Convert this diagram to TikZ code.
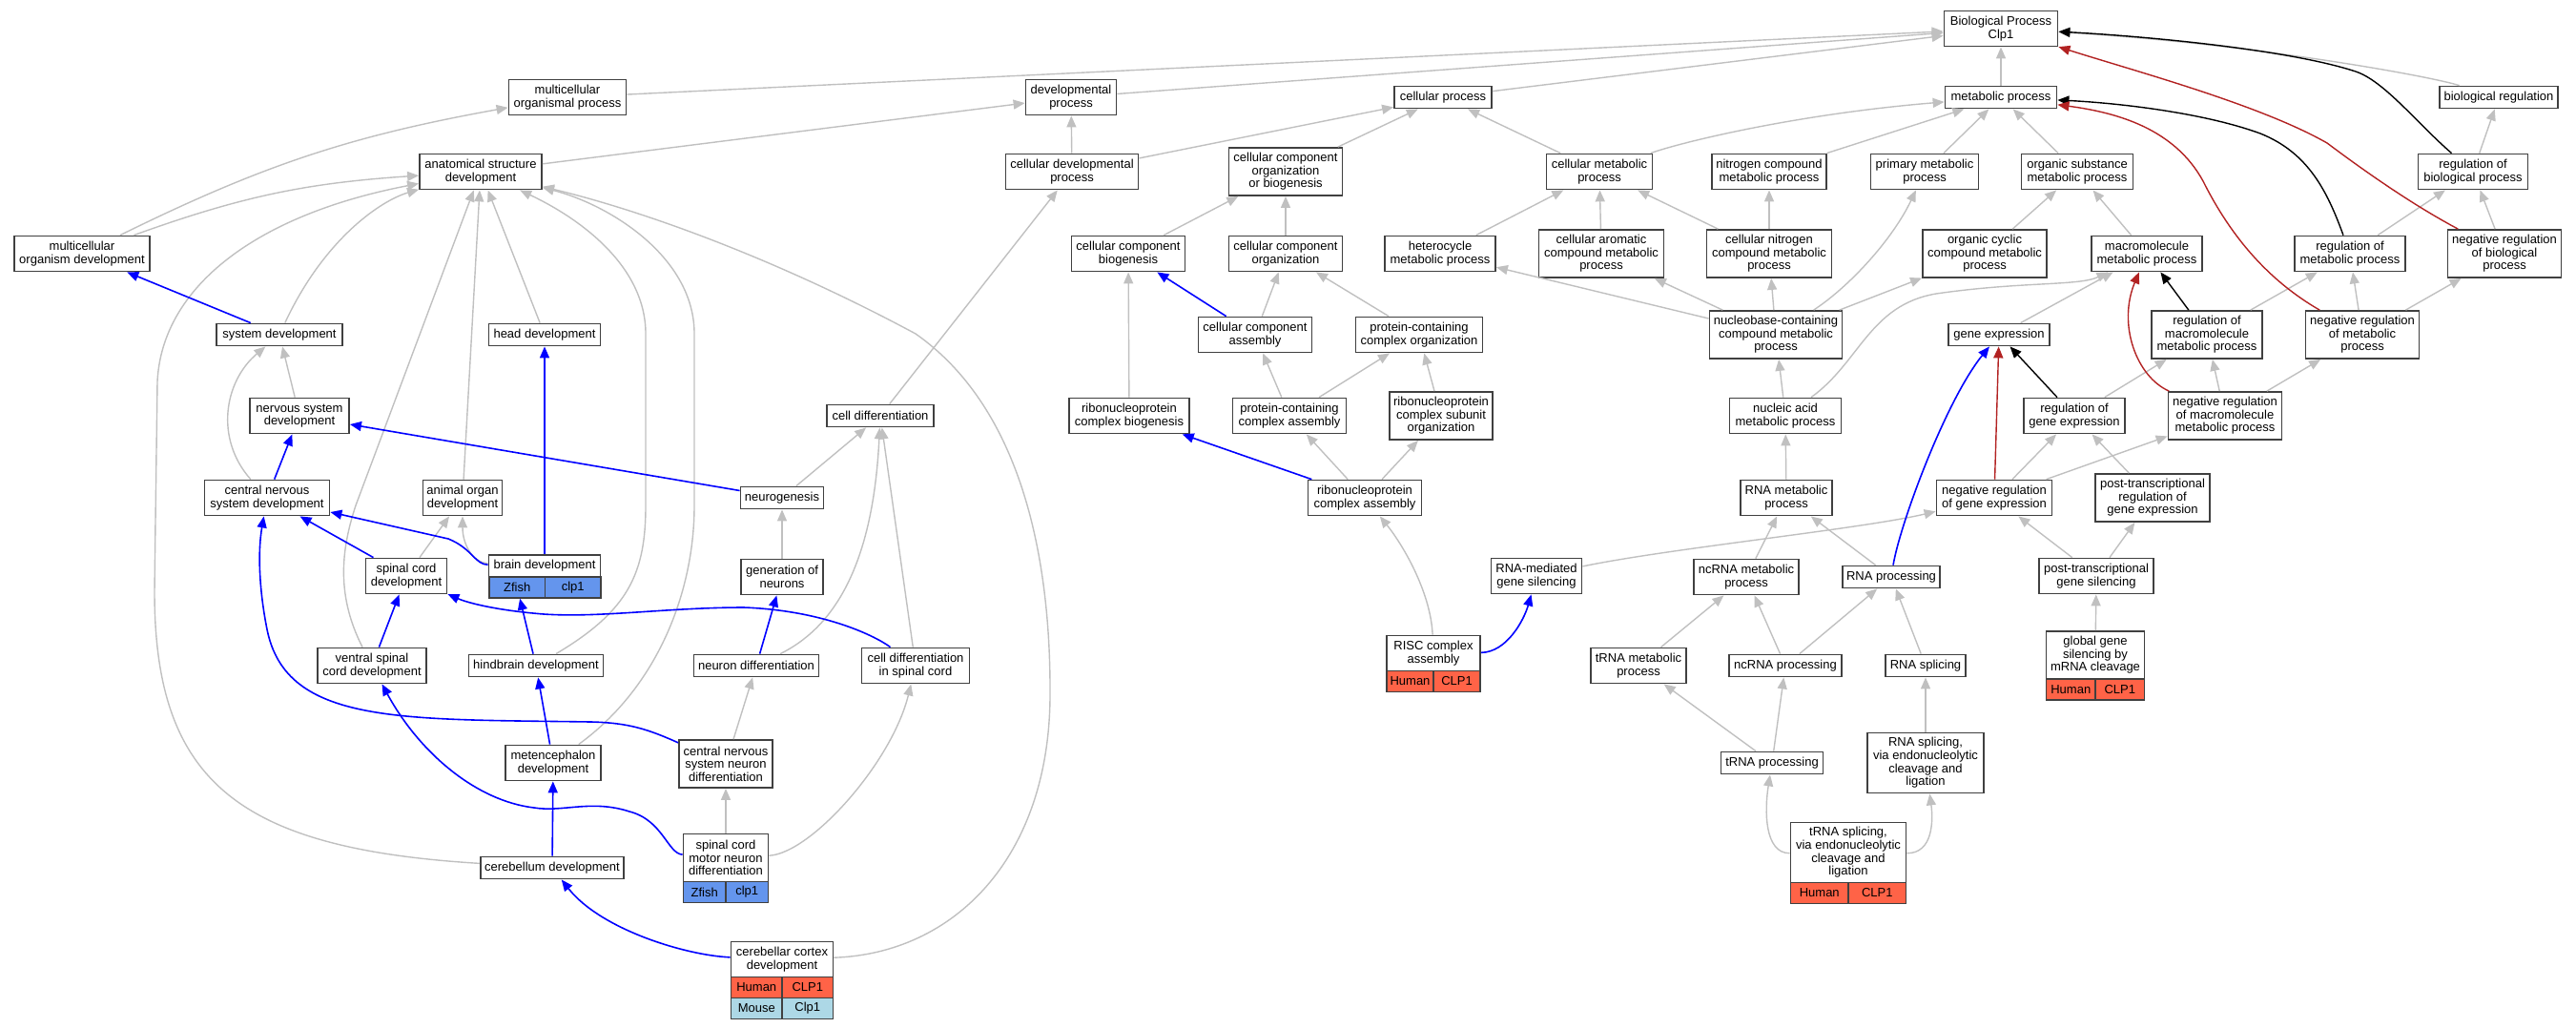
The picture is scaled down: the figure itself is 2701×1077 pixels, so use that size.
\documentclass[tikz,border=0pt]{standalone}
\usepackage{fontspec}
\setmainfont{Liberation Sans}
\usetikzlibrary{arrows.meta}

\definecolor{edgegray}{HTML}{C0C0C0}
\definecolor{negred}{HTML}{B22222}
\definecolor{zfishblue}{HTML}{6495ED}
\definecolor{humanred}{HTML}{FF6347}
\definecolor{mouseblue}{HTML}{ADD8E6}
\newcommand{\gofont}{\fontsize{6.5pt}{6.8pt}\selectfont}

\tikzset{
  term/.style={draw=black!75, line width=0.9pt, fill=white, align=center,
    inner sep=1pt, font=\gofont, minimum height=11.5pt},
  l2/.style={minimum height=18.5pt},
  l3/.style={minimum height=25pt},
  l4/.style={minimum height=31.5pt},
  bw/.style={minimum width=#1*0.5pt},
  cell/.style={draw=black!75, line width=0.9pt, font=\gofont, inner sep=0pt,
    minimum height=11pt},
  zfish/.style={cell, fill=zfishblue},
  human/.style={cell, fill=humanred},
  mouse/.style={cell, fill=mouseblue},
  isa/.style={draw=edgegray, line width=0.7pt, -{Triangle[length=6pt,width=5pt]}},
  partof/.style={draw=blue, line width=0.8pt, -{Triangle[length=6pt,width=5pt]}},
  reg/.style={draw=black, line width=0.7pt, -{Triangle[length=6pt,width=5pt]}},
  negreg/.style={draw=negred, line width=0.7pt, -{Triangle[length=6pt,width=5pt]}}
}

\begin{document}
\begin{tikzpicture}[x=0.5pt,y=-0.5pt]
    \useasboundingbox (0,0) rectangle (2701,1077);

    % top
    \node[term, l2, bw=119] (bp) at (2098,30) {Biological Process\\Clp1};

    \node[term, l2, bw=123] (mop) at (595,102) {multicellular\\organismal process};
    \node[term, l2, bw=95] (devp) at (1123,102) {developmental\\process};
    \node[term, bw=102] (cellp) at (1513,102) {cellular process};
    \node[term, bw=117] (metp) at (2098,102) {metabolic process};
    \node[term, bw=124] (bioreg) at (2620,102) {biological regulation};

    \node[term, l2, bw=128] (asd) at (504,180) {anatomical structure\\development};
    \node[term, l2, bw=139] (cdp) at (1124,180) {cellular developmental\\process};
    \node[term, l3, bw=119] (ccob) at (1348,180) {cellular component\\organization\\or biogenesis};
    \node[term, l2, bw=111] (cmp) at (1677,180) {cellular metabolic\\process};
    \node[term, l2, bw=120] (ncmp) at (1855,180) {nitrogen compound\\metabolic process};
    \node[term, l2, bw=113] (pmp) at (2018,180) {primary metabolic\\process};
    \node[term, l2, bw=117] (osmp) at (2178,180) {organic substance\\metabolic process};
    \node[term, l2, bw=115] (rbp) at (2593,180) {regulation of\\biological process};

    \node[term, l2, bw=142] (mod) at (86,266) {multicellular\\organism development};
    \node[term, l2, bw=119] (ccb) at (1183,266) {cellular component\\biogenesis};
    \node[term, l2, bw=119] (cco) at (1348,266) {cellular component\\organization};
    \node[term, l2, bw=116] (hmp) at (1510,266) {heterocycle\\metabolic process};
    \node[term, l3, bw=131] (camp) at (1679,266) {cellular aromatic\\compound metabolic\\process};
    \node[term, l3, bw=131] (cnmp) at (1855,266) {cellular nitrogen\\compound metabolic\\process};
    \node[term, l3, bw=130] (ocmp) at (2081,266) {organic cyclic\\compound metabolic\\process};
    \node[term, l2, bw=116] (mmp) at (2251,266) {macromolecule\\metabolic process};
    \node[term, l2, bw=116] (rmp) at (2464,266) {regulation of\\metabolic process};
    \node[term, l3, bw=119] (nrbp) at (2626,266) {negative regulation\\of biological\\process};

    \node[term, bw=132] (sysd) at (293,351) {system development};
    \node[term, bw=117] (headd) at (571,351) {head development};
    \node[term, l2, bw=119] (cca) at (1316,351) {cellular component\\assembly};
    \node[term, l2, bw=133] (pcco) at (1488,351) {protein-containing\\complex organization};
    \node[term, l3, bw=139] (nbmp) at (1862,351) {nucleobase-containing\\compound metabolic\\process};
    \node[term, bw=106] (gexp) at (2096,351) {gene expression};
    \node[term, l3, bw=116] (rmmp) at (2314,351) {regulation of\\macromolecule\\metabolic process};
    \node[term, l3, bw=119] (nrmp) at (2477,351) {negative regulation\\of metabolic\\process};

    \node[term, l2, bw=104] (nsd) at (314,436) {nervous system\\development};
    \node[term, bw=112] (celld) at (923,436) {cell differentiation};
    \node[term, l2, bw=126] (rcb) at (1184,436) {ribonucleoprotein\\complex biogenesis};
    \node[term, l2, bw=119] (pcca) at (1352,436) {protein-containing\\complex assembly};
    \node[term, l3, bw=108] (rcso) at (1511,436) {ribonucleoprotein\\complex subunit\\organization};
    \node[term, l2, bw=117] (namp) at (1872,436) {nucleic acid\\metabolic process};
    \node[term, l2, bw=106] (rge) at (2175,436) {regulation of\\gene expression};
    \node[term, l3, bw=119] (nrmmp) at (2333,436) {negative regulation\\of macromolecule\\metabolic process};

    \node[term, l2, bw=131] (cnsd) at (280,522) {central nervous\\system development};
    \node[term, l2, bw=83] (aod) at (485,522) {animal organ\\development};
    \node[term, bw=87] (neurog) at (820,522) {neurogenesis};
    \node[term, l2, bw=119] (rca) at (1431,522) {ribonucleoprotein\\complex assembly};
    \node[term, l2, bw=96] (rnamp) at (1873,522) {RNA metabolic\\process};
    \node[term, l2, bw=121] (nrge) at (2091,522) {negative regulation\\of gene expression};
    \node[term, l3, bw=120] (ptrge) at (2257,522) {post-transcriptional\\regulation of\\gene expression};

    \node[term, l2, bw=85] (scd) at (426,604) {spinal cord\\development};
    \node[term, bw=117] (brain) at (571,593.25) {brain development};
    \node[zfish, bw=58.5] (brainZ) at (542.25,615.75) {Zfish};
    \node[zfish, bw=58.5] (brainC) at (600.75,615.75) {clp1};
    \node[term, l2, bw=86] (gon) at (820,605) {generation of\\neurons};
    \node[term, l2, bw=95] (rmgs) at (1611,604) {RNA-mediated\\gene silencing};
    \node[term, l2, bw=110] (ncrmp) at (1831,605) {ncRNA metabolic\\process};
    \node[term, bw=102] (rnap) at (1983,605) {RNA processing};
    \node[term, l2, bw=120] (ptgs) at (2198,604) {post-transcriptional\\gene silencing};

    \node[term, l2, bw=114] (vscd) at (390,698) {ventral spinal\\cord development};
    \node[term, bw=141] (hbd) at (562,698) {hindbrain development};
    \node[term, bw=131] (neurd) at (793,698) {neuron differentiation};
    \node[term, l2, bw=113] (cdsc) at (960,698) {cell differentiation\\in spinal cord};
    \node[term, l2, bw=98] (risc) at (1503,685) {RISC complex\\assembly};
    \node[human, bw=49] (riscH) at (1478.5,714.5) {Human};
    \node[human, bw=49] (riscC) at (1527.5,714.5) {CLP1};
    \node[term, l2, bw=100] (trmp) at (1718,698) {tRNA metabolic\\process};
    \node[term, bw=118] (ncrp) at (1872,698) {ncRNA processing};
    \node[term, bw=84] (rnas) at (2019,698) {RNA splicing};
    \node[term, l3, bw=103] (ggs) at (2197,687) {global gene\\silencing by\\mRNA cleavage};
    \node[human, bw=51.5] (ggsH) at (2171.25,723) {Human};
    \node[human, bw=51.5] (ggsC) at (2222.75,723) {CLP1};

    \node[term, l2, bw=100] (metd) at (580,800) {metencephalon\\development};
    \node[term, l3, bw=98] (cnsnd) at (761,801) {central nervous\\system neuron\\differentiation};
    \node[term, bw=107] (trnap) at (1858,800) {tRNA processing};
    \node[term, l4, bw=122] (rsve) at (2019,800) {RNA splicing,\\via endonucleolytic\\cleavage and\\ligation};

    \node[term, bw=150] (cbd) at (579,910) {cerebellum development};
    \node[term, l3, bw=89] (scmnd) at (761,899.5) {spinal cord\\motor neuron\\differentiation};
    \node[zfish, bw=44.5] (scmndZ) at (738.75,935.5) {Zfish};
    \node[zfish, bw=44.5] (scmndC) at (783.25,935.5) {clp1};
    \node[term, l4, bw=121] (trsp) at (1938,894) {tRNA splicing,\\via endonucleolytic\\cleavage and\\ligation};
    \node[human, bw=60.5] (trspH) at (1907.75,936.5) {Human};
    \node[human, bw=60.5] (trspC) at (1968.25,936.5) {CLP1};

    \node[term, l2, bw=107] (ccd) at (820,1006) {cerebellar cortex\\development};
    \node[human, bw=53.5] (ccdH) at (793.25,1035.5) {Human};
    \node[human, bw=53.5] (ccdC) at (846.75,1035.5) {CLP1};
    \node[mouse, bw=53.5] (ccdM) at (793.25,1057.5) {Mouse};
    \node[mouse, bw=53.5] (ccdK) at (846.75,1057.5) {Clp1};

    % is_a
    \draw[isa] (mop) -- (bp);
    \draw[isa] (devp) -- (bp);
    \draw[isa] (cellp) -- (bp);
    \draw[isa] (metp) -- (bp);
    \draw[isa] (bioreg) .. controls (2540,78) and (2350,45) .. (bp);
    \draw[isa] (mod) to[bend left=8] (mop);
    \draw[isa] (mod) to[bend left=8] (asd);
    \draw[isa] (asd) -- (devp);
    \draw[isa] (sysd) .. controls (340,250) and (400,210) .. (asd);
    \draw[isa] (headd) -- (asd);
    \draw[isa] (nsd) -- (sysd);
    \draw[isa] (cnsd) .. controls (225,460) and (235,400) .. (sysd);
    \draw[isa] (aod) -- (asd);
    \draw[isa] (neurog) -- (celld);
    \draw[isa] (cbd) .. controls (250,890) and (162,820) .. (162,620) -- (165,400) .. controls (170,300) and (270,225) .. (asd);
    \draw[isa] (vscd) .. controls (350,620) and (360,570) .. (373,530) -- (asd);
    \draw[isa] (hbd) .. controls (660,640) and (677,600) .. (677,530) -- (677,350) .. controls (677,280) and (610,230) .. (asd);
    \draw[isa] (metd) .. controls (690,720) and (728,620) .. (728,530) -- (728,350) .. controls (728,270) and (640,215) .. (asd);
    \draw[isa] (ccd) .. controls (1000,1000) and (1100,900) .. (1101,730) .. controls (1102,560) and (1060,420) .. (960,350) .. controls (830,280) and (690,225) .. (asd);
    \draw[isa] (brain) .. controls (495,590) and (485,570) .. (aod);
    \draw[isa] (scd) -- (aod);
    \draw[isa] (cnsnd) -- (neurd);
    \draw[isa] (scmnd) -- (cnsnd);
    \draw[isa] (scmnd) .. controls (850,895) and (935,800) .. (cdsc);
    \draw[isa] (cdsc) -- (celld);
    \draw[isa] (neurd) .. controls (870,660) and (915,600) .. (celld);
    \draw[isa] (gon) -- (neurog);
    \draw[isa] (celld) -- (cdp);
    \draw[isa] (cdp) -- (devp);
    \draw[isa] (cdp) -- (cellp);
    \draw[isa] (ccob) -- (cellp);
    \draw[isa] (cmp) -- (cellp);
    \draw[isa] (cmp) .. controls (1760,150) and (1880,120) .. (metp);
    \draw[isa] (ccb) -- (ccob);
    \draw[isa] (cco) -- (ccob);
    \draw[isa] (cca) -- (cco);
    \draw[isa] (pcco) -- (cco);
    \draw[isa] (rcb) -- (ccb);
    \draw[isa] (pcca) -- (cca);
    \draw[isa] (pcca) -- (pcco);
    \draw[isa] (rcso) -- (pcco);
    \draw[isa] (rca) -- (pcca);
    \draw[isa] (rca) -- (rcso);
    \draw[isa] (risc) .. controls (1500,620) and (1470,570) .. (rca);
    \draw[isa] (rmgs) .. controls (1750,575) and (1950,555) .. (nrge);
    \draw[isa] (ncmp) -- (metp);
    \draw[isa] (pmp) -- (metp);
    \draw[isa] (osmp) -- (metp);
    \draw[isa] (rbp) -- (bioreg);
    \draw[isa] (nrbp) -- (rbp);
    \draw[isa] (hmp) -- (cmp);
    \draw[isa] (camp) -- (cmp);
    \draw[isa] (cnmp) -- (cmp);
    \draw[isa] (cnmp) -- (ncmp);
    \draw[isa] (ocmp) -- (osmp);
    \draw[isa] (mmp) -- (osmp);
    \draw[isa] (rmp) -- (rbp);
    \draw[isa] (nbmp) -- (hmp);
    \draw[isa] (nbmp) -- (camp);
    \draw[isa] (nbmp) -- (cnmp);
    \draw[isa] (nbmp) .. controls (1940,300) and (1985,250) .. (pmp);
    \draw[isa] (nbmp) -- (ocmp);
    \draw[isa] (gexp) -- (mmp);
    \draw[isa] (namp) -- (nbmp);
    \draw[isa] (namp) .. controls (1950,380) and (1960,320) .. (2030,308) .. controls (2120,295) and (2180,300) .. (mmp);
    \draw[isa] (rmmp) -- (rmp);
    \draw[isa] (nrmp) -- (rmp);
    \draw[isa] (nrmp) -- (nrbp);
    \draw[isa] (rge) -- (rmmp);
    \draw[isa] (nrmmp) -- (rmmp);
    \draw[isa] (nrmmp) -- (nrmp);
    \draw[isa] (rnamp) -- (namp);
    \draw[isa] (nrge) -- (rge);
    \draw[isa] (nrge) -- (nrmmp);
    \draw[isa] (ptrge) -- (rge);
    \draw[isa] (ncrmp) -- (rnamp);
    \draw[isa] (rnap) -- (rnamp);
    \draw[isa] (ptgs) -- (nrge);
    \draw[isa] (ptgs) -- (ptrge);
    \draw[isa] (trmp) -- (ncrmp);
    \draw[isa] (ncrp) -- (ncrmp);
    \draw[isa] (ncrp) -- (rnap);
    \draw[isa] (rnas) -- (rnap);
    \draw[isa] (ggs) -- (ptgs);
    \draw[isa] (trnap) -- (trmp);
    \draw[isa] (trnap) -- (ncrp);
    \draw[isa] (rsve) -- (rnas);
    \draw[isa] (trsp) .. controls (1850,895) and (1850,850) .. (trnap);
    \draw[isa] (trsp) .. controls (2027,895) and (2027,860) .. (rsve);

    % part_of
    \draw[partof] (sysd) -- (mod);
    \draw[partof] (cnsd) -- (nsd);
    \draw[partof] (neurog) -- (nsd);
    \draw[partof] (brain) -- (headd);
    \draw[partof] (brain) .. controls (498,592) and (495,575) .. (470,565) -- (cnsd);
    \draw[partof] (scd) -- (cnsd);
    \draw[partof] (vscd) -- (scd);
    \draw[partof] (hbd) -- (brainZ);
    \draw[partof] (metd) -- (hbd);
    \draw[partof] (cbd) -- (metd);
    \draw[partof] (ccd) .. controls (720,1002) and (630,975) .. (cbd);
    \draw[partof] (scmnd) .. controls (700,895) and (695,860) .. (660,851) .. controls (620,838) and (590,852) .. (560,847) .. controls (500,840) and (440,790) .. (vscd);
    \draw[partof] (cnsnd) .. controls (680,765) and (660,758) .. (620,757) .. controls (420,754) and (300,760) .. (280,660) .. controls (272,620) and (270,580) .. (cnsd);
    \draw[partof] (cdsc) .. controls (915,665) and (860,640) .. (780,637) .. controls (700,637) and (630,648) .. (570,644) .. controls (520,640) and (490,632) .. (scd);
    \draw[partof] (neurd) -- (gon);
    \draw[partof] (cca) -- (ccb);
    \draw[partof] (rca) -- (rcb);
    \draw[partof] (risc) .. controls (1580,684) and (1598,650) .. (rmgs);
    \draw[partof] (rnap) .. controls (1992,550) and (2040,420) .. (gexp);

    % regulates
    \draw[reg] (rbp) .. controls (2535,130) and (2500,85) .. (2470,75) .. controls (2400,52) and (2250,38) .. (bp);
    \draw[reg] (rmp) .. controls (2440,200) and (2420,160) .. (2370,140) .. controls (2310,118) and (2220,108) .. (metp);
    \draw[reg] (rmmp) -- (mmp);
    \draw[reg] (rge) -- (gexp);

    % negatively regulates
    \draw[negreg] (nrbp) .. controls (2530,215) and (2480,180) .. (2440,150) .. controls (2370,110) and (2240,75) .. (bp);
    \draw[negreg] (nrmp) .. controls (2380,295) and (2340,250) .. (2310,190) .. controls (2280,135) and (2220,118) .. (metp);
    \draw[negreg] (nrmmp) .. controls (2240,395) and (2220,340) .. (mmp);
    \draw[negreg] (nrge) -- (gexp);
\end{tikzpicture}
\end{document}
